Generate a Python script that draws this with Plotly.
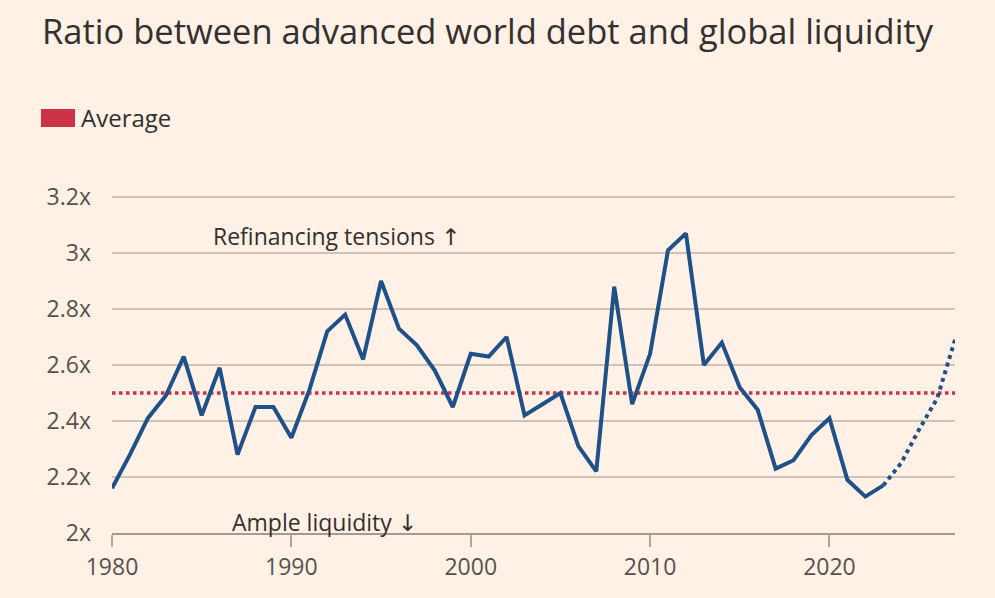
import plotly.graph_objects as go

years = list(range(1980, 2024))
ratio = [2.16, 2.28, 2.41, 2.49, 2.63, 2.42, 2.59, 2.28, 2.45, 2.45,
         2.34, 2.51, 2.72, 2.78, 2.62, 2.90, 2.73, 2.67, 2.58, 2.45,
         2.64, 2.63, 2.70, 2.42, 2.46, 2.50, 2.31, 2.22, 2.88, 2.46,
         2.64, 3.01, 3.07, 2.60, 2.68, 2.52, 2.44, 2.23, 2.26, 2.35,
         2.41, 2.19, 2.13, 2.17]
proj_years = [2023, 2024, 2025, 2026, 2027]
proj_ratio = [2.17, 2.25, 2.37, 2.48, 2.69]
average = 2.5
y_ticks = [2.0, 2.2, 2.4, 2.6, 2.8, 3.0, 3.2]
y_labels = ["2x", "2.2x", "2.4x", "2.6x", "2.8x", "3x", "3.2x"]
x_ticks = [1980, 1990, 2000, 2010, 2020]

BG = "#fff1e5"
BLUE = "#1f5189"
RED = "#cc3347"
FONT = "Open Sans"
TXT = "#33302e"
GRAY = "#57514d"

PAD = 5  # px of headroom above the top gridline
L, R, T, B = 112, 40, 197 - PAD, 65
PW, PH = 995 - L - R, 598 - T - B

def px(xp):
    return (xp - L) / PW

def py(yp):
    return (598 - B - yp) / PH

ARROW = '<span style="font-family:DejaVu Sans">{}</span>'

fig = go.Figure()
fig.add_trace(go.Scatter(x=[years[0], proj_years[-1]], y=[average, average],
                         mode="lines", line=dict(color=RED, width=3.5, dash="dot"),
                         hoverinfo="skip", showlegend=False))
fig.add_trace(go.Scatter(x=years, y=ratio, mode="lines",
                         line=dict(color=BLUE, width=4), showlegend=False))
fig.add_trace(go.Scatter(x=proj_years, y=proj_ratio, mode="lines",
                         line=dict(color=BLUE, width=4, dash="dot"), showlegend=False))

fig.update_layout(
    width=995, height=598,
    paper_bgcolor=BG, plot_bgcolor=BG,
    margin=dict(l=L, r=R, t=T, b=B),
    font=dict(family=FONT, color=GRAY, size=20),
    showlegend=False,
    xaxis=dict(range=[1980, 2027], tickvals=x_ticks, showgrid=False, zeroline=False,
               showline=True, linecolor="#a59a91", linewidth=2,
               ticks="outside", ticklen=12, tickwidth=1.5, tickcolor="#b0a59c",
               tickfont=dict(size=23, color=GRAY, family=FONT)),
    yaxis=dict(range=[2, 3.2 + PAD / 280], tickvals=y_ticks, ticktext=y_labels, showgrid=True,
               gridcolor="#cfc2b6", gridwidth=1.5, zeroline=False, showline=False,
               ticks="", ticklabelstandoff=20,
               tickfont=dict(size=23, color=GRAY, family=FONT)),
)

fig.add_annotation(text="Ratio between advanced world debt and global liquidity",
                   xref="paper", yref="paper", x=px(40), y=py(30),
                   xanchor="left", yanchor="middle", showarrow=False,
                   font=dict(size=34.5, color=TXT, family=FONT))
# legend
fig.add_shape(type="rect", xref="paper", yref="paper",
              x0=px(41), x1=px(75), y0=py(127), y1=py(109),
              fillcolor=RED, line=dict(width=0))
fig.add_annotation(text="Average", xref="paper", yref="paper",
                   x=px(79), y=py(118), xanchor="left", yanchor="middle",
                   showarrow=False, font=dict(size=24, color=TXT, family=FONT))
fig.add_annotation(text="Refinancing tensions " + ARROW.format("\u2191"), x=1985.5, y=3.06,
                   xref="x", yref="y", xanchor="left", yanchor="middle", showarrow=False,
                   font=dict(size=23, color=TXT, family=FONT))
fig.add_annotation(text="Ample liquidity " + ARROW.format("\u2193"), x=1986.6, y=2.04,
                   xref="x", yref="y", xanchor="left", yanchor="middle", showarrow=False,
                   font=dict(size=23, color=TXT, family=FONT))

fig.write_html("out.html", config={"displayModeBar": False},
               post_script="document.body.style.margin='0';document.body.style.background='#fff1e5';")
